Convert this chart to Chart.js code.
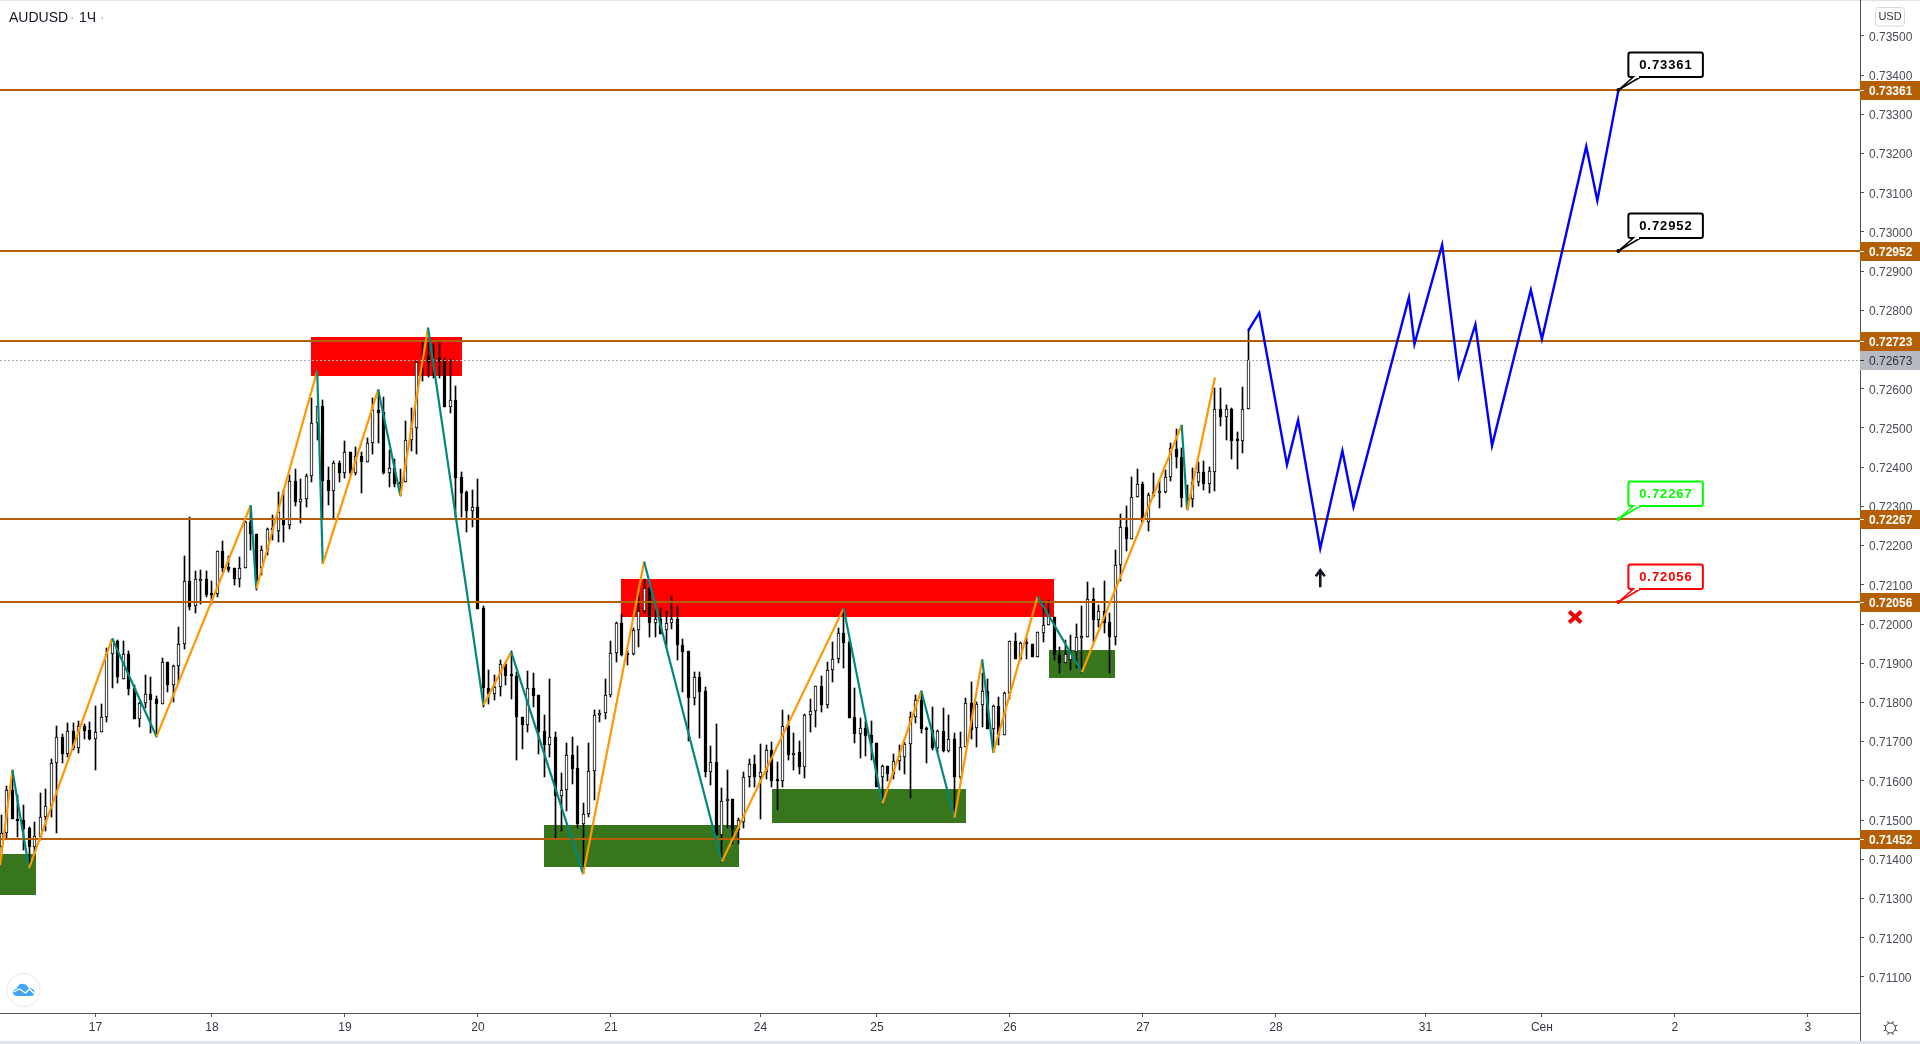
<!DOCTYPE html>
<html>
<head>
<meta charset="utf-8">
<title>AUDUSD 1H</title>
<script src="https://cdn.jsdelivr.net/npm/chart.js@4/dist/chart.umd.min.js"></script>
<style>
    html, body { margin: 0; padding: 0; background: #fff; overflow: hidden; }
    canvas { display: block; }
</style>
</head>
<body>
<canvas id="chart" width="1920" height="1044"></canvas>
<script>
// ---- data (x = hourly bar number, y = price) ----
const opens = [
    0.71432,0.71466,0.71578,0.71504,0.71499,0.71479,0.71432,0.71458,0.71507,0.71537,
    0.71645,0.71713,0.71669,0.71726,0.71683,0.71739,0.71729,0.71706,0.71724,0.71762,
    0.71923,0.71958,0.71861,0.71923,0.71836,0.71759,0.71798,0.71821,0.71808,0.71797,
    0.71902,0.71845,0.71892,0.71948,0.72109,0.72046,0.72110,0.72114,0.72078,0.72077,
    0.72186,0.72146,0.72142,0.72114,0.72142,0.72261,0.72229,0.72142,0.72190,0.72242,
    0.72238,0.72265,0.72253,0.72364,0.72312,0.72318,0.72377,0.72512,0.72556,0.72367,
    0.72340,0.72410,0.72384,0.72438,0.72384,0.72429,0.72414,0.72463,0.72546,0.72540,
    0.72386,0.72397,0.72358,0.72363,0.72469,0.72501,0.72669,0.72684,0.72665,0.72679,
    0.72672,0.72554,0.72571,0.72375,0.72337,0.72289,0.72298,0.72040,0.71838,0.71821,
    0.71840,0.71897,0.71870,0.71868,0.71762,0.71743,0.71838,0.71818,0.71726,0.71692,
    0.71713,0.71562,0.71576,0.71665,0.71632,0.71491,0.71515,0.71624,0.71767,0.71774,
    0.71818,0.71925,0.72002,0.71925,0.71924,0.71984,0.72034,0.72091,0.72003,0.72014,
    0.71986,0.72002,0.72014,0.71947,0.71931,0.71812,0.71865,0.71829,0.71623,0.71647,
    0.71462,0.71549,0.71553,0.71475,0.71494,0.71609,0.71642,0.71609,0.71623,0.71680,
    0.71602,0.71599,0.71741,0.71667,0.71673,0.71636,0.71767,0.71777,0.71841,0.71794,
    0.71882,0.71910,0.71976,0.71954,0.71762,0.71719,0.71734,0.71717,0.71696,0.71610,
    0.71638,0.71617,0.71650,0.71661,0.71693,0.71762,0.71805,0.71733,0.71731,0.71685,
    0.71726,0.71677,0.71706,0.71610,0.71687,0.71798,0.71736,0.71794,0.71828,0.71733,
    0.71790,0.71716,0.71823,0.71957,0.71911,0.71951,0.71948,0.71917,0.71978,0.71997,
    0.72019,0.71921,0.71900,0.71908,0.71929,0.71965,0.71966,0.72065,0.72010,0.72033,
    0.72004,0.71968,0.72150,0.72247,0.72218,0.72325,0.72356,0.72261,0.72327,0.72335,
    0.72336,0.72376,0.72447,0.72425,0.72322,0.72318,0.72361,0.72387,0.72356,0.72389,
    0.72548,0.72529,0.72548,0.72468,0.72466,0.72548
];
const highs = [
    0.71514,0.71587,0.71627,0.71564,0.71538,0.71483,0.71495,0.71569,0.71579,0.71655,
    0.71740,0.71719,0.71747,0.71747,0.71753,0.71745,0.71750,0.71791,0.71796,0.71938,
    0.71963,0.71959,0.71956,0.71930,0.71844,0.71802,0.71869,0.71865,0.71816,0.71913,
    0.71902,0.71895,0.71992,0.72173,0.72273,0.72134,0.72138,0.72134,0.72109,0.72186,
    0.72212,0.72173,0.72144,0.72171,0.72264,0.72300,0.72229,0.72199,0.72244,0.72278,
    0.72336,0.72342,0.72380,0.72395,0.72370,0.72383,0.72576,0.72556,0.72571,0.72400,
    0.72416,0.72416,0.72467,0.72439,0.72452,0.72440,0.72475,0.72576,0.72597,0.72578,
    0.72444,0.72420,0.72395,0.72518,0.72550,0.72672,0.72720,0.72718,0.72714,0.72720,
    0.72678,0.72675,0.72607,0.72387,0.72339,0.72342,0.72370,0.72046,0.71883,0.71870,
    0.71908,0.71900,0.71930,0.71878,0.71762,0.71881,0.71874,0.71818,0.71768,0.71859,
    0.71724,0.71619,0.71696,0.71713,0.71690,0.71543,0.71696,0.71781,0.71781,0.71860,
    0.71957,0.72006,0.72025,0.71933,0.71989,0.72078,0.72116,0.72091,0.72036,0.72040,
    0.72032,0.72071,0.72046,0.71963,0.71931,0.71878,0.71877,0.71840,0.71690,0.71745,
    0.71581,0.71628,0.71553,0.71505,0.71622,0.71657,0.71666,0.71693,0.71691,0.71700,
    0.71647,0.71781,0.71769,0.71721,0.71702,0.71770,0.71809,0.71841,0.71867,0.71904,
    0.71954,0.71991,0.72038,0.71960,0.71838,0.71760,0.71753,0.71752,0.71696,0.71640,
    0.71638,0.71668,0.71691,0.71700,0.71776,0.71818,0.71830,0.71738,0.71789,0.71731,
    0.71787,0.71767,0.71723,0.71725,0.71811,0.71851,0.71802,0.71874,0.71861,0.71793,
    0.71814,0.71826,0.71957,0.71976,0.71955,0.71968,0.71948,0.71979,0.72060,0.72061,
    0.72019,0.71942,0.71959,0.71972,0.72000,0.72046,0.72106,0.72091,0.72048,0.72110,
    0.72027,0.72189,0.72281,0.72301,0.72376,0.72395,0.72363,0.72333,0.72386,0.72367,
    0.72393,0.72461,0.72497,0.72450,0.72355,0.72397,0.72414,0.72416,0.72400,0.72601,
    0.72601,0.72558,0.72550,0.72489,0.72604,0.72750
];
const lows = [
    0.71415,0.71453,0.71503,0.71457,0.71424,0.71377,0.71407,0.71449,0.71473,0.71509,
    0.71468,0.71646,0.71662,0.71679,0.71672,0.71708,0.71704,0.71628,0.71724,0.71751,
    0.71838,0.71850,0.71860,0.71820,0.71759,0.71738,0.71787,0.71721,0.71713,0.71797,
    0.71827,0.71802,0.71849,0.71937,0.72036,0.72028,0.72051,0.72070,0.72051,0.72070,
    0.72132,0.72132,0.72100,0.72095,0.72142,0.72188,0.72088,0.72125,0.72176,0.72214,
    0.72208,0.72208,0.72242,0.72301,0.72258,0.72299,0.72363,0.72469,0.72270,0.72304,
    0.72270,0.72363,0.72373,0.72380,0.72380,0.72335,0.72414,0.72434,0.72461,0.72383,
    0.72350,0.72350,0.72327,0.72363,0.72442,0.72434,0.72621,0.72631,0.72627,0.72627,
    0.72554,0.72537,0.72274,0.72274,0.72234,0.72248,0.72038,0.71789,0.71796,0.71806,
    0.71817,0.71844,0.71809,0.71653,0.71682,0.71725,0.71789,0.71668,0.71611,0.71662,
    0.71455,0.71473,0.71524,0.71591,0.71479,0.71364,0.71509,0.71551,0.71751,0.71757,
    0.71815,0.71904,0.71919,0.71895,0.71921,0.71942,0.72029,0.71968,0.71968,0.71974,
    0.71942,0.71987,0.71908,0.71826,0.71702,0.71793,0.71710,0.71610,0.71589,0.71462,
    0.71394,0.71479,0.71440,0.71440,0.71481,0.71585,0.71585,0.71502,0.71606,0.71585,
    0.71525,0.71585,0.71653,0.71627,0.71617,0.71608,0.71725,0.71738,0.71776,0.71785,
    0.71853,0.71901,0.71887,0.71761,0.71697,0.71659,0.71664,0.71653,0.71585,0.71542,
    0.71600,0.71606,0.71628,0.71617,0.71557,0.71747,0.71723,0.71646,0.71679,0.71674,
    0.71674,0.71674,0.71508,0.71606,0.71687,0.71708,0.71687,0.71738,0.71733,0.71674,
    0.71691,0.71716,0.71809,0.71911,0.71908,0.71912,0.71917,0.71917,0.71955,0.71997,
    0.71908,0.71874,0.71900,0.71883,0.71887,0.71874,0.71966,0.71955,0.71993,0.71976,
    0.71874,0.71946,0.72111,0.72187,0.72218,0.72325,0.72261,0.72238,0.72325,0.72297,
    0.72333,0.72365,0.72399,0.72299,0.72291,0.72299,0.72353,0.72342,0.72335,0.72340,
    0.72506,0.72469,0.72422,0.72396,0.72435,0.72548
];
const closes = [
    0.71466,0.71578,0.71503,0.71498,0.71478,0.71432,0.71460,0.71507,0.71537,0.71645,
    0.71713,0.71669,0.71726,0.71683,0.71739,0.71728,0.71706,0.71724,0.71762,0.71923,
    0.71961,0.71864,0.71923,0.71835,0.71759,0.71798,0.71821,0.71807,0.71797,0.71902,
    0.71845,0.71892,0.71948,0.72109,0.72043,0.72114,0.72114,0.72073,0.72073,0.72186,
    0.72144,0.72139,0.72114,0.72142,0.72261,0.72229,0.72109,0.72190,0.72242,0.72239,
    0.72286,0.72252,0.72364,0.72312,0.72318,0.72377,0.72512,0.72556,0.72366,0.72340,
    0.72410,0.72384,0.72438,0.72384,0.72429,0.72414,0.72463,0.72546,0.72539,0.72384,
    0.72397,0.72358,0.72363,0.72469,0.72501,0.72669,0.72672,0.72665,0.72679,0.72672,
    0.72554,0.72571,0.72373,0.72335,0.72289,0.72298,0.72038,0.71838,0.71821,0.71840,
    0.71897,0.71868,0.71868,0.71762,0.71743,0.71838,0.71817,0.71725,0.71691,0.71713,
    0.71562,0.71576,0.71665,0.71631,0.71490,0.71515,0.71624,0.71767,0.71774,0.71818,
    0.71925,0.72002,0.71921,0.71921,0.71985,0.72034,0.72091,0.72003,0.72014,0.71974,
    0.72002,0.72014,0.71947,0.71929,0.71812,0.71864,0.71827,0.71623,0.71647,0.71462,
    0.71549,0.71553,0.71475,0.71500,0.71609,0.71642,0.71609,0.71623,0.71680,0.71600,
    0.71599,0.71741,0.71667,0.71672,0.71636,0.71768,0.71777,0.71841,0.71794,0.71882,
    0.71910,0.71976,0.71952,0.71761,0.71719,0.71734,0.71715,0.71696,0.71585,0.71638,
    0.71617,0.71650,0.71663,0.71693,0.71762,0.71805,0.71732,0.71731,0.71685,0.71726,
    0.71677,0.71706,0.71610,0.71687,0.71798,0.71730,0.71796,0.71828,0.71733,0.71790,
    0.71717,0.71823,0.71957,0.71911,0.71951,0.71949,0.71917,0.71979,0.71997,0.72027,
    0.71921,0.71900,0.71923,0.71929,0.71966,0.71967,0.72065,0.72010,0.72033,0.72003,
    0.71968,0.72150,0.72247,0.72218,0.72325,0.72356,0.72261,0.72328,0.72336,0.72337,
    0.72376,0.72448,0.72425,0.72322,0.72295,0.72361,0.72387,0.72356,0.72390,0.72548,
    0.72529,0.72548,0.72468,0.72466,0.72548,0.72673
];

// zigzag turning points
const zigBars   = [-0.24,2,5,20,28,45,46,57,58,68,72,77,87,92,105,116,130,152,159,166,172,177,179,187,195,213,214,219];
const zigPrices = [0.71385,0.71627,0.71377,0.71963,0.71713,0.72303,0.72090,0.72646,0.72153,0.72598,0.72327,0.72756,
                   0.71793,0.71929,0.71362,0.72159,0.71394,0.72040,0.71542,0.71830,0.71506,0.71910,0.71672,0.72070,
                   0.71877,0.72508,0.72291,0.72629];

// blue forecast path
const pathBars   = [225,227,232,234,238,242,244,254,255,260,263,266,269,276,278,286,288,291.8];
const pathPrices = [0.72748,0.72794,0.72406,0.72520,0.72193,0.72442,0.72299,0.72833,0.72714,0.72967,0.72630,0.72764,
                    0.72455,0.72852,0.72727,0.73218,0.73080,0.73361];

// supply / demand boxes
const zoneStart  = [55.9,111.8,-1,98,139,189];
const zoneEnd    = [83.1,190,6.2,133.2,174.1,201];
const zoneTop    = [0.72732,0.72115,0.71413,0.71487,0.71579,0.71934];
const zoneBottom = [0.72633,0.72019,0.71309,0.71381,0.71493,0.71863];
const zoneColors = ['#ff0000','#ff0000','#38761d','#38761d','#38761d','#38761d'];

const levels = [0.73361,0.72952,0.72723,0.72267,0.72056,0.71452];
const lastPrice = 0.72673;
const calloutBar = 291.8;
const calloutPrices = [0.73361,0.72952,0.72267,0.72056];
const calloutColors = ['#000000','#000000','#00ff00','#ff0000'];
const arrowBar = 238, arrowPrice = 0.72117;
const crossBar = 284, crossPrice = 0.72018;

const priceTicks = [0.735,0.734,0.733,0.732,0.731,0.730,0.729,0.728,0.727,0.726,0.725,0.724,0.723,0.722,0.721,0.720,
                    0.719,0.718,0.717,0.716,0.715,0.714,0.713,0.712,0.711];
const dayTicks  = [17,38,62,86,110,137,158,182,206,230,257,278,302,326];
const dayLabels = ['17','18','19','20','21','24','25','26','27','28','31','Сен','2','3'];

const FONT = '"Liberation Sans", Arial, sans-serif';
const LEVEL_COLOR = '#b45f06';
const AXIS_COLOR = '#50535e';

// snap the candles to whole pixels so the wicks stay sharp
const snapPlugin = {
    id: 'snap',
    afterDatasetsUpdate(chart) {
        chart.data.datasets.forEach((ds, i) => {
            const meta = chart.getDatasetMeta(i);
            if (ds.type === 'bar') {
                meta.data.forEach(el => {
                    el.x = Math.floor(el.x) + 0.5;
                    el.y = Math.round(el.y);
                    el.base = Math.round(el.base);
                    if (el.y === el.base) el.base += 1;
                });
            } else if (ds.snapY) {
                meta.data.forEach(el => { el.y = Math.round(el.y) + ds.snapY; });
            }
        });
    }
};

const zonesPlugin = {
    id: 'zones',
    beforeDatasetsDraw(chart) {
        const { ctx, chartArea: a, scales: { x, y } } = chart;
        ctx.save();
        ctx.beginPath();
        ctx.rect(a.left, a.top, a.width, a.height);
        ctx.clip();
        zoneStart.forEach((s, i) => {
            const left = Math.round(x.getPixelForValue(s));
            const right = Math.round(x.getPixelForValue(zoneEnd[i]));
            const top = Math.round(y.getPixelForValue(zoneTop[i]));
            const bottom = Math.round(y.getPixelForValue(zoneBottom[i]));
            ctx.fillStyle = zoneColors[i];
            ctx.fillRect(left, top, right - left, bottom - top);
        });
        ctx.restore();
    }
};

function roundRect(ctx, x, y, w, h, r) {
    ctx.beginPath();
    ctx.roundRect(x, y, w, h, r);
}

function drawCallout(ctx, px, py, text, color) {
    ctx.save();
    ctx.strokeStyle = color;
    ctx.fillStyle = '#fff';
    ctx.lineWidth = 2;
    ctx.lineJoin = 'round';
    roundRect(ctx, px + 10, py - 37.5, 74.5, 24.5, 2);
    ctx.fill();
    ctx.stroke();
    // tail from the box down to the anchor
    ctx.lineWidth = 1.6;
    ctx.beginPath();
    ctx.moveTo(px + 15, py - 13);
    ctx.lineTo(px, py);
    ctx.lineTo(px + 22, py - 13);
    ctx.fillStyle = '#fff';
    ctx.fill();
    ctx.stroke();
    ctx.fillStyle = '#fff';
    ctx.fillRect(px + 16.5, py - 14.5, 4, 2.5);
    ctx.fillStyle = color;
    ctx.beginPath();
    ctx.arc(px, py, 2, 0, Math.PI * 2);
    ctx.fill();
    ctx.font = 'bold 13px ' + FONT;
    ctx.letterSpacing = '0.9px';
    ctx.textAlign = 'center';
    ctx.textBaseline = 'middle';
    ctx.fillText(text, px + 47.5, py - 25);
    ctx.restore();
}

function drawPriceTag(ctx, py, text, bg, fg, weight) {
    const mid = Math.round(py);
    ctx.fillStyle = bg;
    ctx.fillRect(1860, mid - 9, 60, 19);
    ctx.strokeStyle = fg;
    ctx.lineWidth = 1;
    ctx.beginPath();
    ctx.moveTo(1860, mid + 0.5);
    ctx.lineTo(1864, mid + 0.5);
    ctx.stroke();
    ctx.fillStyle = fg;
    ctx.font = weight + ' 12px ' + FONT;
    ctx.textAlign = 'left';
    ctx.textBaseline = 'middle';
    ctx.fillText(text, 1869, mid + 2);
}

function drawGear(ctx, cx, cy) {
    ctx.save();
    ctx.strokeStyle = '#3a3e4a';
    ctx.lineWidth = 1;
    ctx.beginPath();
    ctx.arc(cx, cy, 5, 0, Math.PI * 2);
    for (let k = 0; k < 8; k++) {
        const t = k * Math.PI / 4 + Math.PI / 8;
        ctx.moveTo(cx + Math.cos(t) * 5, cy + Math.sin(t) * 5);
        ctx.lineTo(cx + Math.cos(t) * 7.5, cy + Math.sin(t) * 7.5);
    }
    ctx.stroke();
    ctx.restore();
}

function drawLogo(ctx, cx, cy) {
    ctx.save();
    ctx.strokeStyle = '#e8e8e8';
    ctx.fillStyle = '#fff';
    ctx.lineWidth = 1;
    ctx.beginPath();
    ctx.arc(cx, cy, 16.5, 0, Math.PI * 2);
    ctx.fill();
    ctx.stroke();
    ctx.fillStyle = '#3fa7f5';
    ctx.beginPath();
    ctx.moveTo(cx - 7, cy + 6);
    ctx.quadraticCurveTo(cx - 11, cy + 5, cx - 10.5, cy + 2);
    ctx.quadraticCurveTo(cx - 10, cy - 1, cx - 7, cy - 1);
    ctx.quadraticCurveTo(cx - 5, cy - 7, cx, cy - 6);
    ctx.quadraticCurveTo(cx + 3, cy - 6, cx + 5, cy - 2);
    ctx.quadraticCurveTo(cx + 11, cy - 2, cx + 11, cy + 3);
    ctx.quadraticCurveTo(cx + 11, cy + 6, cx + 7, cy + 6);
    ctx.closePath();
    ctx.fill();
    ctx.strokeStyle = '#fff';
    ctx.lineWidth = 1.3;
    ctx.beginPath();
    ctx.moveTo(cx - 10, cy + 2);
    ctx.lineTo(cx - 4, cy - 1);
    ctx.lineTo(cx + 2, cy + 3);
    ctx.lineTo(cx + 6, cy - 1);
    ctx.lineTo(cx + 11, cy + 4);
    ctx.stroke();
    ctx.restore();
}

const overlayPlugin = {
    id: 'overlay',
    afterDraw(chart) {
        const { ctx, scales: { x, y } } = chart;
        ctx.save();

        // page edges and the axis line running down past the time scale
        ctx.fillStyle = '#e0e3eb';
        ctx.fillRect(0, 0, 1920, 1);
        ctx.fillRect(0, 1041, 1920, 3);
        ctx.strokeStyle = AXIS_COLOR;
        ctx.lineWidth = 1;
        ctx.beginPath();
        ctx.moveTo(1860.5, 0);
        ctx.lineTo(1860.5, 1041);
        ctx.stroke();

        // price tags on the axis
        levels.forEach(v => drawPriceTag(ctx, y.getPixelForValue(v), v.toFixed(5), LEVEL_COLOR, '#ffffff', 'bold'));
        drawPriceTag(ctx, y.getPixelForValue(lastPrice), lastPrice.toFixed(5), '#b8bac2', '#2f323c', 'normal');

        // callouts with the target prices
        calloutPrices.forEach((v, i) => {
            drawCallout(ctx, x.getPixelForValue(calloutBar), Math.round(y.getPixelForValue(v)), v.toFixed(5), calloutColors[i]);
        });

        // black arrow under the forecast low
        const ax = x.getPixelForValue(arrowBar), ay = y.getPixelForValue(arrowPrice);
        ctx.strokeStyle = '#131722';
        ctx.lineWidth = 2.6;
        ctx.beginPath();
        ctx.moveTo(ax, ay + 9);
        ctx.lineTo(ax, ay - 8);
        ctx.moveTo(ax - 4.5, ay - 2);
        ctx.lineTo(ax, ay - 8);
        ctx.lineTo(ax + 4.5, ay - 2);
        ctx.stroke();

        // red cross
        const cx = x.getPixelForValue(crossBar), cy = y.getPixelForValue(crossPrice);
        ctx.strokeStyle = '#f00000';
        ctx.lineWidth = 4;
        ctx.beginPath();
        ctx.moveTo(cx - 6, cy - 5.5);
        ctx.lineTo(cx + 6, cy + 5.5);
        ctx.moveTo(cx + 6, cy - 5.5);
        ctx.lineTo(cx - 6, cy + 5.5);
        ctx.stroke();

        // symbol title
        ctx.textBaseline = 'alphabetic';
        ctx.textAlign = 'left';
        ctx.font = '14px ' + FONT;
        ctx.fillStyle = '#131722';
        ctx.fillText('AUDUSD', 9, 22);
        ctx.fillText('1Ч', 79, 22);
        ctx.fillStyle = '#a3a6af';
        ctx.fillText('·', 70, 22);
        ctx.fillText('·', 100, 22);

        // currency button
        ctx.strokeStyle = '#d6d8e0';
        ctx.lineWidth = 1;
        roundRect(ctx, 1875.5, 7.5, 29, 18.5, 3);
        ctx.stroke();
        ctx.fillStyle = '#2f323c';
        ctx.font = '11px ' + FONT;
        ctx.textAlign = 'center';
        ctx.textBaseline = 'middle';
        ctx.fillText('USD', 1890, 17);

        drawGear(ctx, 1890.5, 1028);
        drawLogo(ctx, 23.5, 990);
        ctx.restore();
    }
};

const lineDataset = (xs, ys, color, width, order) => ({
    type: 'line',
    data: xs.map((b, i) => ({ x: b, y: ys[i] })),
    borderColor: color,
    borderWidth: width,
    pointRadius: 0,
    tension: 0,
    order: order
});

const BAR_MIN = -0.24, BAR_MAX = 335.4;

const levelSets = levels.map(v => Object.assign(lineDataset([BAR_MIN, BAR_MAX], [v, v], LEVEL_COLOR, 2, 3), { snapY: 0.01 }));

const lastSet = Object.assign(lineDataset([BAR_MIN, BAR_MAX], [lastPrice, lastPrice], '#a9acb6', 1, 3.5),
    { borderDash: [2, 2], snapY: 0.5 });

const zigSet = lineDataset(zigBars, zigPrices, '#ff9800', 2.2, 2);
zigSet.segment = {
    borderColor: c => (c.p1.parsed.y > c.p0.parsed.y ? '#ff9800' : '#00897b')
};

new Chart(document.getElementById('chart'), {
    type: 'bar',
    data: {
        datasets: [
            {
                type: 'bar',
                data: highs.map((h, i) => ({ x: i, y: [lows[i], h] })),
                backgroundColor: '#000',
                barThickness: 1,
                grouped: false,
                order: 6
            },
            {
                type: 'bar',
                data: opens.map((o, i) => ({ x: i, y: [o, closes[i]] })),
                backgroundColor: closes.map((c, i) => (c >= opens[i] ? '#ffffff' : '#000000')),
                borderColor: '#000',
                borderWidth: 1,
                borderSkipped: false,
                barThickness: 3,
                minBarLength: 2,
                grouped: false,
                order: 5
            },
            lastSet,
            ...levelSets,
            zigSet,
            lineDataset(pathBars, pathPrices, '#0000ff', 2.4, 1)
        ]
    },
    options: {
        responsive: false,
        animation: false,
        devicePixelRatio: 1,
        events: [],
        layout: { padding: { left: 0, top: 1, right: 0, bottom: 0 } },
        plugins: {
            legend: { display: false },
            title: { display: false },
            tooltip: { enabled: false }
        },
        scales: {
            x: {
                type: 'linear',
                offset: false,
                min: BAR_MIN,
                max: BAR_MAX,
                afterBuildTicks: axis => { axis.ticks = dayTicks.map(v => ({ value: v })); },
                afterFit: axis => {
                    axis.height = 31;
                    axis.paddingLeft = 0;
                    axis.paddingRight = 0;
                },
                grid: { offset: false, drawOnChartArea: false, drawTicks: true, tickLength: 4, color: AXIS_COLOR },
                border: { display: true, color: AXIS_COLOR },
                ticks: {
                    autoSkip: false,
                    maxRotation: 0,
                    padding: 3,
                    color: '#363a45',
                    font: { family: FONT, size: 12 },
                    callback: (v, i) => dayLabels[i]
                }
            },
            y: {
                type: 'linear',
                position: 'right',
                min: 0.71008,
                max: 0.73589,
                afterBuildTicks: axis => { axis.ticks = priceTicks.map(v => ({ value: v })); },
                afterFit: axis => {
                    axis.width = 60;
                    axis.paddingTop = 0;
                    axis.paddingBottom = 0;
                },
                grid: { drawOnChartArea: false, drawTicks: true, tickLength: 4, color: AXIS_COLOR },
                border: { display: true, color: AXIS_COLOR },
                ticks: {
                    padding: 5,
                    color: '#4a4c55',
                    // empty first line pushes the label about a pixel down, as in the picture
                    font: { family: FONT, size: 12, lineHeight: '3px' },
                    callback: v => ['', v.toFixed(5)]
                }
            }
        }
    },
    plugins: [snapPlugin, zonesPlugin, overlayPlugin]
});
</script>
</body>
</html>
